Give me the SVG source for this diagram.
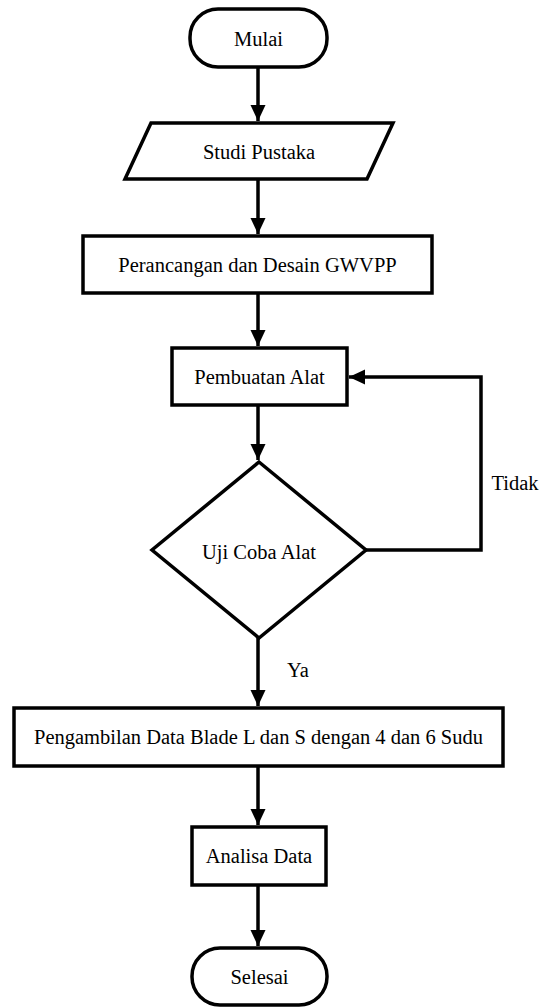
<svg xmlns="http://www.w3.org/2000/svg" width="549" height="1007" viewBox="0 0 549 1007">
<style>
.s{fill:#fff;stroke:#000;stroke-width:3.5;stroke-linejoin:miter}
.t{font-family:'Liberation Serif','Times New Roman',serif;font-size:20.5px;fill:#000;text-anchor:middle;dominant-baseline:central}
.c{fill:none;stroke:#000;stroke-width:3.5}
</style>
<defs>
<marker id="ah" markerUnits="userSpaceOnUse" markerWidth="18" markerHeight="18" viewBox="0 0 18 18" refX="16" refY="9" orient="auto">
<path d="M0,1.5 L16,9 L0,16.5 Z" fill="#000"/>
</marker>
</defs>
<g id="connectors">
<line class="c" x1="258" y1="67" x2="258" y2="121" marker-end="url(#ah)"/>
<line class="c" x1="258" y1="179" x2="258" y2="234" marker-end="url(#ah)"/>
<line class="c" x1="258" y1="293" x2="258" y2="346" marker-end="url(#ah)"/>
<line class="c" x1="258" y1="405" x2="258" y2="460" marker-end="url(#ah)"/>
<polyline class="c" points="366,550 481,550 481,377 349,377" marker-end="url(#ah)"/>
<line class="c" x1="258" y1="638" x2="258" y2="706" marker-end="url(#ah)"/>
<line class="c" x1="258" y1="766" x2="258" y2="825" marker-end="url(#ah)"/>
<line class="c" x1="258" y1="885" x2="258" y2="946" marker-end="url(#ah)"/>
<text class="t" x="515" y="483">Tidak</text>
<text class="t" x="298" y="670">Ya</text>
</g>
<g id="mulai">
<rect class="s" x="190" y="9" width="137" height="58" rx="28" ry="28"/>
<text class="t" x="258.5" y="39">Mulai</text>
</g>
<g id="studi">
<polygon class="s" points="151,123 393,123 367,179 125,179"/>
<text class="t" x="259" y="152">Studi Pustaka</text>
</g>
<g id="perancangan">
<rect class="s" x="83" y="236" width="349" height="57"/>
<text class="t" x="257.5" y="265">Perancangan dan Desain GWVPP</text>
</g>
<g id="pembuatan">
<rect class="s" x="172" y="348" width="175" height="57"/>
<text class="t" x="259.5" y="377">Pembuatan Alat</text>
</g>
<g id="uji">
<polygon class="s" points="259,462 366,550 259,638 152,550"/>
<text class="t" x="259" y="552">Uji Coba Alat</text>
</g>
<g id="pengambilan">
<rect class="s" x="14" y="708" width="489" height="58"/>
<text class="t" x="258.5" y="737">Pengambilan Data Blade L dan S dengan 4 dan 6 Sudu</text>
</g>
<g id="analisa">
<rect class="s" x="192" y="827" width="134" height="58"/>
<text class="t" x="259" y="856">Analisa Data</text>
</g>
<g id="selesai">
<rect class="s" x="192" y="948" width="135" height="57" rx="28" ry="28"/>
<text class="t" x="259.5" y="977">Selesai</text>
</g>
</svg>
